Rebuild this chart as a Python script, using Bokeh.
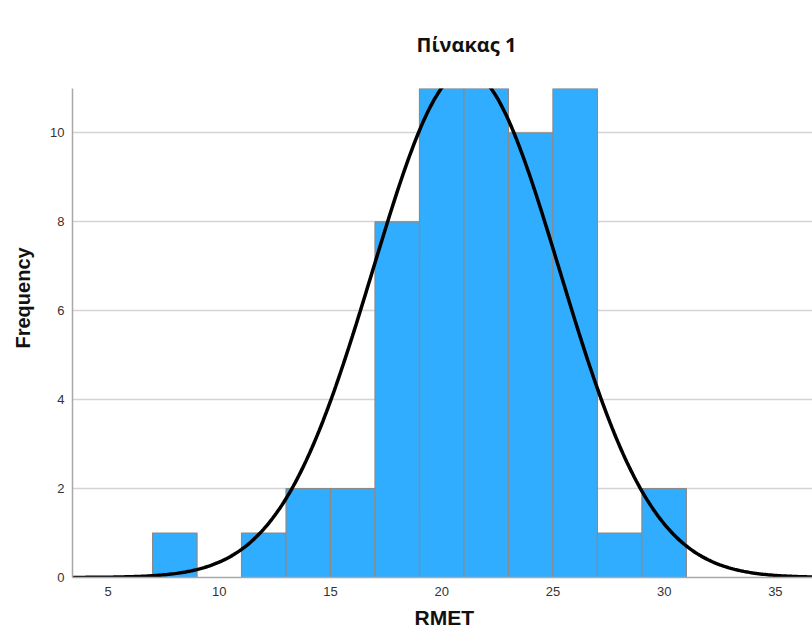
import math
from bokeh.plotting import figure
from bokeh.models import Range1d, FixedTicker, ColumnDataSource, Title
from bokeh.embed import file_html
from bokeh.resources import INLINE

# Histogram data (RMET), bins of width 2
bin_left = [7, 11, 13, 15, 17, 19, 21, 23, 25, 27, 29]
bin_right = [9, 13, 15, 17, 19, 21, 23, 25, 27, 29, 31]
counts = [1, 1, 2, 2, 8, 11, 11, 10, 11, 1, 2]

# Normal curve parameters (as drawn by SPSS)
mean_val = 21.1
sd_val = 4.2
n_total = sum(counts)
bin_width = 2

x_ticks = [5, 10, 15, 20, 25, 30, 35]
y_ticks = [0, 2, 4, 6, 8, 10]

x_min, x_max = 3.4, 36.67
y_min, y_max = 0, 11.0

p = figure(width=812, height=638, output_backend="svg", toolbar_location=None,
           x_range=Range1d(x_min, x_max), y_range=Range1d(y_min, y_max),
           min_border_left=71, min_border_right=0, min_border_top=88, min_border_bottom=61)
p.outline_line_color = None
p.background_fill_color = "white"
p.border_fill_color = "white"

src = ColumnDataSource(dict(left=bin_left, right=bin_right, top=counts, bottom=[0]*len(counts)))
p.quad(left="left", right="right", top="top", bottom="bottom", source=src,
       fill_color="#31adff", line_color="#8a8a8a", line_width=1.2)

# Normal curve
npts = 400
xs = [x_min + (x_max - x_min) * i / (npts - 1) for i in range(npts)]
peak = n_total * bin_width / (sd_val * math.sqrt(2 * math.pi))
ys = [peak * math.exp(-((x - mean_val) ** 2) / (2 * sd_val ** 2)) for x in xs]
p.line(xs, ys, line_color="black", line_width=3.5)

p.xgrid.visible = False
p.ygrid.ticker = FixedTicker(ticks=y_ticks[1:])
p.ygrid.grid_line_color = "#d4d4d4"
p.ygrid.grid_line_width = 1.5

for ax in (p.xaxis[0], p.yaxis[0]):
    ax.axis_line_color = "#a8a8a8"
    ax.axis_line_width = 1.5
    ax.major_tick_line_color = None
    ax.minor_tick_line_color = None
    ax.major_tick_out = 0
    ax.major_tick_in = 0
    ax.major_label_text_font = "Liberation Sans"
    ax.major_label_text_font_size = "13px"
    ax.major_label_text_color = "#333333"
p.xaxis.ticker = FixedTicker(ticks=x_ticks)
p.yaxis.ticker = FixedTicker(ticks=y_ticks)
p.xaxis.major_label_standoff = 9
p.yaxis.major_label_standoff = 8

# Title
p.title.text = "Πίνακας 1"
p.title.align = "left"
p.title.offset = 415 - 71
p.title.vertical_align = "top"
p.title.standoff = 58
p.title.text_font = "Open Sans"
p.title.text_font_style = "bold"
p.title.text_font_size = "20px"
p.title.text_color = "#111111"

# Axis titles
p.add_layout(Title(text="RMET", align="left", offset=413 - 71, vertical_align="bottom",
                   standoff=11, text_font="Liberation Sans", text_font_style="bold",
                   text_font_size="21px", text_color="#111111"), "below")
p.add_layout(Title(text="Frequency", align="left", offset=577 - 348, vertical_align="top",
                   standoff=23, text_font="Liberation Sans", text_font_style="bold",
                   text_font_size="20px", text_color="#111111"), "left")

open("out.html", "w").write(file_html(p, INLINE))
